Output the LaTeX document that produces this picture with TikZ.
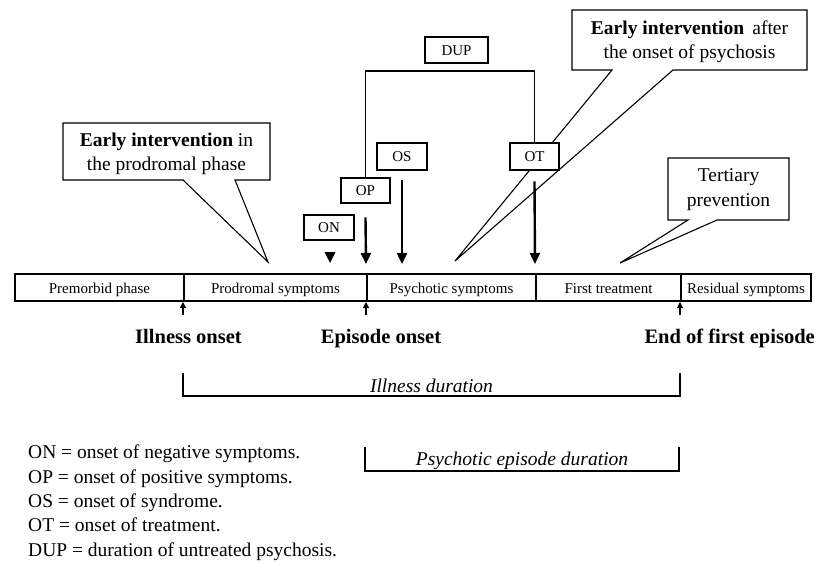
\documentclass[tikz,border=0pt]{standalone}
\usepackage{fontspec}
\setmainfont{Liberation Serif}
\usetikzlibrary{arrows.meta}
\begin{document}
\begin{tikzpicture}[x=1pt,y=-1pt,
  seg/.style={draw,line width=2pt,minimum height=27pt,inner sep=0pt,text height=11pt,text depth=0pt,anchor=north west,font=\fontsize{15}{18}\selectfont},
  tbox/.style={draw,line width=2.6pt,inner sep=0pt,text height=10.5pt,text depth=0pt,font=\fontsize{15}{18}\selectfont},
  thin/.style={line width=1.1pt},
  bigarr/.style={line width=2.4pt,-{Triangle[length=11pt,width=10pt]}},
  tickarr/.style={line width=1.2pt,-{Triangle[length=6pt,width=6pt]}},
  lab/.style={font=\fontsize{20.5}{24}\selectfont\bfseries,inner sep=0pt,anchor=base},
  callout/.style={align=center,inner sep=0pt,font=\fontsize{19.5}{24}\selectfont},
  dur/.style={font=\fontsize{19.5}{24}\selectfont\itshape,inner sep=0pt,anchor=base},
]
\useasboundingbox (0,0) rectangle (817,563);

% timeline bar
\node[seg,minimum width=169pt] (pre) at (14,273) {Premorbid phase};
\node[seg,minimum width=183pt] (prod) at (183,273) {Prodromal symptoms};
\node[seg,minimum width=169pt] (psy) at (366,273) {Psychotic symptoms};
\node[seg,minimum width=145pt] (ft) at (535,273) {First treatment};
\node[seg,minimum width=130pt] (res) at (680,273) {Residual symptoms};

% ticks under the bar
\coordinate (u1) at (183,315);
\coordinate (u2) at (366,315);
\coordinate (u3) at (680,315);
\draw[tickarr] (u1) -- (prod.south west);
\draw[tickarr] (u2) -- (psy.south west);
\draw[tickarr] (u3) -- (res.south west);

% labels
\node[lab] (io) at (188.5,343) {Illness onset};
\node[lab] (eo) at (381,343) {Episode onset};
\node[lab,anchor=base east] (ee) at (815,343) {End of first episode};

% callouts
\draw[thin,fill=white] (63,123) -- (270,123) -- (270,180) -- (235,180) -- (268,262) -- (183,180) -- (63,180) -- cycle;
\node[callout] (c1) at (166.5,154) {\textbf{Early intervention} in\\the prodromal phase};

\draw[thin,fill=white] (572,10) -- (807,10) -- (807,70) -- (673,70) -- (455,261) -- (612,70) -- (572,70) -- cycle;
\node[callout] (c2) at (689.5,41.5) {\textbf{Early intervention}\, after\\the onset of psychosis};

\draw[thin,fill=white] (668,158) -- (789,158) -- (789,220) -- (717,220) -- (620,263) -- (688,220) -- (668,220) -- cycle;
\node[callout,font=\fontsize{19.5}{25}\selectfont] (c3) at (728.5,189.5) {Tertiary\\prevention};

% onset boxes
\node[tbox,minimum width=63pt,minimum height=26pt] (dup) at (456.5,50) {DUP};
\node[tbox,minimum width=50pt,minimum height=27pt,fill=white] (os) at (402,156.5) {OS};
\node[tbox,minimum width=49pt,minimum height=27pt,fill=white] (ot) at (534.5,156.5) {OT};
\node[tbox,minimum width=49pt,minimum height=25pt] (op) at (365.5,190.5) {OP};
\node[tbox,minimum width=50pt,minimum height=25pt] (on) at (329,227.5) {ON};

% DUP bracket
\draw[thin] (op.north) -- (op.north |- 0,71) -- (ot.north |- 0,71) -- (ot.north);

% arrows
\coordinate (aOP) at (366,264);
\coordinate (aOS) at (402,264);
\coordinate (aOT) at (535,264);
\draw[bigarr] ([yshift=-13pt]op.south) -- (aOP);
\draw[bigarr] ([yshift=-9pt]os.south) -- (aOS);
\draw[bigarr] ([yshift=-10pt]ot.south) -- (aOT);
\fill (324.5,252) -- (335.5,252) -- (330,263) -- cycle;

% durations
\draw[thin] (183,373) -- (183,396) -- (680,396) -- (680,373);
\node[dur] (idur) at (431.5,392) {Illness duration};
\draw[thin] (365,447) -- (365,471) -- (679,471) -- (679,447);
\node[dur] (pdur) at (522,465) {Psychotic episode duration};

% legend
\node[anchor=north west,align=left,inner sep=0pt,font=\fontsize{19.5}{24.3}\selectfont] (leg) at (28,445)
{ON = onset of negative symptoms.\\
OP = onset of positive symptoms.\\
OS = onset of syndrome.\\
OT = onset of treatment.\\
DUP = duration of untreated psychosis.};
\end{tikzpicture}
\end{document}
